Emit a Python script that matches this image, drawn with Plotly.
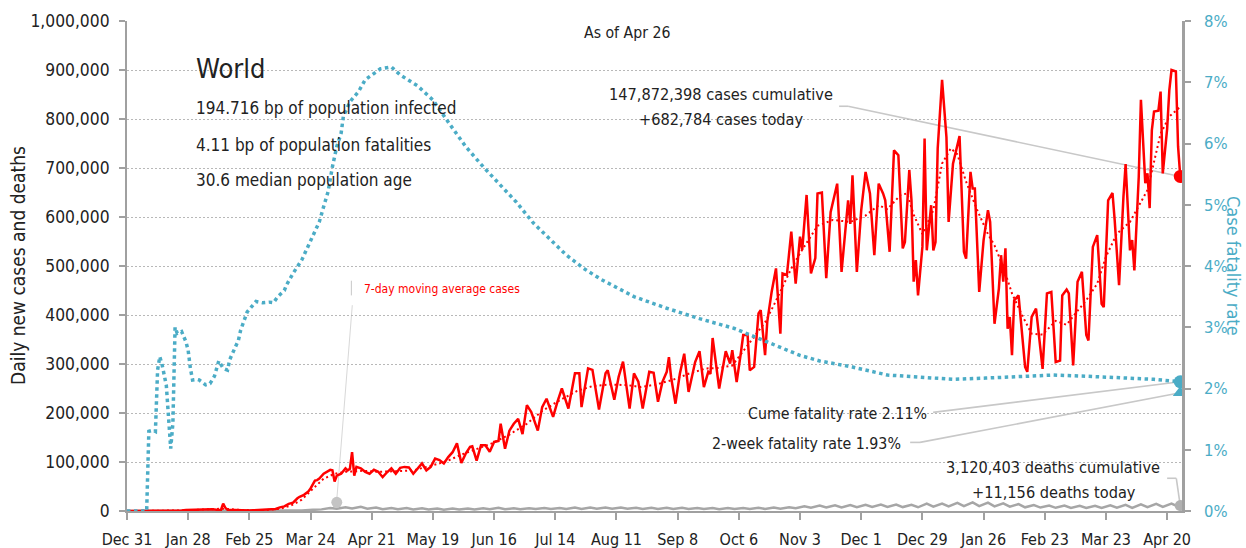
import pandas as pd
import plotly.graph_objects as go

# ---------------- data (days since 2019-12-31) ----------------
START = pd.Timestamp("2019-12-31")

# daily new cases (thousands)
case_day = [0, 18, 21, 23, 25, 27, 29, 31, 33, 35, 37, 39, 41, 43, 44, 45, 46, 48, 50, 52, 54, 56, 58, 60, 62, 64, 66, 68,
            70, 72, 74, 76, 78, 79, 81, 83, 84, 86, 87, 88, 90, 92, 93, 94, 95, 96, 98, 100, 101, 102, 103, 104, 105, 107,
            109, 111, 113, 115, 117, 119, 121, 123, 125, 127, 129, 131, 133, 135, 137, 139, 141, 143, 145, 147, 149, 151,
            153, 155, 157, 158, 160, 162, 164, 166, 168, 170, 171, 173, 175, 177, 179, 181, 183, 185, 188, 190, 192, 195,
            197, 199, 202, 205, 207, 208, 211, 213, 216, 219, 220, 223, 225, 227, 230, 232, 234, 236, 239, 241, 243, 245,
            247, 248, 249, 251, 253, 255, 257, 260, 262, 264, 266, 267, 268, 271, 274, 276, 277, 279, 281, 282, 284, 285,
            287, 289, 290, 292, 293, 295, 297, 299, 300, 302, 304, 306, 308, 309, 311, 313, 315, 316, 318, 320, 322, 325,
            327, 330, 331, 332, 334, 336, 338, 340, 342, 344, 346, 347, 349, 351, 353, 355, 356, 358, 359, 360, 361, 362,
            364, 365, 366, 368, 369, 370, 371, 373, 375, 376, 378, 380, 381, 383, 384, 386, 387, 388, 390, 392, 394, 395,
            397, 399, 400, 401, 402, 403, 404, 405, 406, 408, 411, 412, 414, 416, 419, 421, 423, 425, 427, 428, 430, 431,
            433, 435, 437, 439, 440, 442, 444, 446, 447, 449, 451, 452, 454, 456, 457, 459, 460, 461, 463, 464, 466, 467,
            468, 469, 470, 472, 473, 474, 476, 477, 478, 480, 481, 482]
case_k = [0, 0.1, 0.4, 0.7, 1.0, 1.9, 2.1, 2.7, 3.3, 3.9, 3.7, 3.6, 2.7, 2.0, 15.2, 6.5, 2.6, 2.1, 1.9, 0.8, 1.0, 0.9, 1.5, 1.8, 2.5, 2.3, 3.6, 4.2,
          7.5, 9.5, 14.5, 17, 26, 29, 33, 40, 46, 62, 63, 66, 76, 82, 84, 83, 60, 72, 76, 87, 83, 86, 120, 72, 90, 87,
          80, 76, 84, 80, 69, 79, 87, 76, 88, 90, 89, 76, 87, 97, 83, 90, 107, 104, 97, 110, 120, 138,
          98, 117, 131, 132, 103, 134, 134, 121, 141, 143, 178, 127, 164, 178, 188, 157, 216, 202, 164, 212, 229, 192,
          223, 250, 209, 281, 281, 212, 291, 288, 207, 281, 287, 227, 274, 305, 209, 281, 264, 209, 284, 282, 223, 263,
          284, 314, 273, 219, 280, 321, 243, 304, 326, 253, 284, 280, 353, 250, 326, 301, 328, 263, 325, 359, 359, 287,
          294, 403, 410, 318, 386, 447, 495, 362, 485, 482, 570, 464, 560, 533, 645, 485, 516, 648, 650, 475, 610, 668,
          488, 634, 586, 685, 488, 614, 692, 648, 522, 668, 648, 634, 529, 736, 726, 536, 549, 696, 634, 468, 512, 440,
          539, 760, 532, 624, 532, 549, 740, 880, 763, 590, 709, 750, 765, 529, 515, 692, 658, 658, 447, 553, 614, 590,
          382, 454, 522, 468, 536, 372, 396, 318, 430, 440, 294, 284, 396, 413, 290, 444, 447, 304, 307, 440, 452, 444,
          297, 468, 488, 359, 348, 539, 563, 423, 416, 634, 649, 593, 461, 641, 708, 532, 553, 491, 681, 839, 669, 689,
          618, 777, 815, 817, 856, 689, 780, 859, 900, 897, 744, 682.784]

# 7-day moving average of cases (thousands)
ma_day = [0, 20, 27, 33, 40, 44, 51, 58, 65, 70, 75, 80, 85, 90, 95, 100, 108, 115, 122, 131, 138, 146, 153, 160, 167,
          175, 183, 190, 198, 206, 213, 221, 229, 235, 242, 250, 257, 265, 271, 277, 283, 288, 292, 296, 300, 304, 308,
          312, 316, 323, 331, 338, 344, 348, 354, 357, 360, 364, 369, 373, 377, 380, 384, 389, 394, 397, 401, 405, 410,
          414, 419, 425, 430, 434, 439, 444, 448, 453, 459, 467, 473, 477, 482]
ma_k = [0, 0.2, 1.2, 2.7, 3.3, 4.8, 2.6, 1.2, 2.4, 4.5, 11, 23, 45, 66, 76, 80, 82, 80, 81, 83, 91, 101, 115, 126, 138,
        156, 178, 204, 226, 245, 255, 258, 257, 253, 258, 268, 280, 291, 292, 297, 332, 360, 385, 420, 457, 495, 526,
        555, 582, 594, 590, 603, 624, 616, 645, 648, 605, 565, 614, 709, 740, 728, 672, 615, 565, 542, 498, 444, 396,
        362, 360, 388, 380, 403, 430, 464, 519, 566, 590, 655, 770, 805, 825]

# daily deaths (thousands)
death_day = [0, 20, 25, 30, 35, 40, 44, 48, 55, 62, 66, 70, 75, 80, 85,
             89, 93, 96, 100, 103, 107, 110, 114, 117, 121, 124, 128, 131, 135, 138, 142, 145, 149, 152, 156, 159, 163,
             166, 170, 173, 177, 180, 184, 187, 191, 194, 198, 201, 205, 208, 212, 215, 219, 222, 226, 229, 233, 236, 240,
             243, 247, 250, 254, 257, 261, 264, 268, 271, 275, 278, 282, 285, 289, 292, 296, 299, 303, 306, 310, 313, 317,
             320, 324, 327, 331, 334, 338, 341, 345, 348, 352, 355, 359, 362, 366, 369, 373, 376, 380, 383, 387, 390, 394,
             397, 401, 404, 408, 411, 415, 418, 422, 425, 429, 432, 436, 439, 443, 446, 450, 453, 457, 460, 464, 467, 471,
             474, 478, 481, 482]
death_k = [0, 0.02, 0.03, 0.05, 0.07, 0.1, 0.25, 0.12, 0.1, 0.08, 0.1, 0.3, 0.6, 1.2, 2.3,
           3.3, 6.0, 4.8, 7.6, 5.2, 8.5, 4.8, 7.2, 3.8, 6.3, 3.6, 5.9, 3.3, 5.4, 3.0, 5.2, 2.8, 5.0, 2.9, 5.3, 3.1, 5.5,
           3.4, 6.8, 3.5, 5.4, 3.7, 5.8, 3.9, 6.0, 4.0, 6.3, 4.2, 7.0, 4.3, 7.0, 4.5, 7.0, 4.6, 7.1, 4.4, 6.8, 4.3, 6.5,
           4.1, 6.4, 3.9, 6.4, 4.0, 6.2, 3.9, 6.1, 3.8, 6.2, 3.9, 6.2, 4.0, 6.6, 4.3, 7.0, 4.8, 7.8, 5.6, 9.6, 6.7, 11.0,
           7.0, 11.8, 7.3, 12.2, 7.8, 12.6, 8.2, 13.0, 8.3, 13.2, 8.0, 12.5, 7.6, 15.0, 9.0, 15.0, 9.5, 16.5, 10.0, 17.5,
           9.8, 17.2, 9.5, 15.5, 8.8, 14.0, 7.5, 12.0, 7.0, 11.0, 6.5, 11.0, 6.3, 10.5, 6.0, 10.8, 6.4, 11.8, 6.8, 12.5,
           6.5, 13.8, 8.0, 14.5, 8.5, 15.0, 9.0, 11.156]

# cumulative case fatality rate (%)
cfr_day = [0, 9, 10, 12, 13, 14, 15, 16, 18, 19, 20, 21, 22, 23, 25, 27, 28, 29, 30, 32, 33, 36, 38, 40, 41, 42, 44,
           46, 47, 49, 51, 52, 55, 59, 62, 65, 67, 69, 72, 73, 76, 80, 84, 88, 90, 92, 94, 96, 98, 99, 102, 106, 109,
           116, 121, 125, 133, 140, 148, 155, 163, 171, 178, 186, 194, 201, 209, 217, 232, 247, 262, 278, 293, 308,
           317, 332, 348, 363, 378, 393, 409, 424, 439, 455, 470, 482]
cfr_pct = [0, 0, 1.30, 1.32, 1.30, 2.30, 2.52, 2.40, 2.05, 1.48, 1.02, 1.43, 3.00, 2.90, 2.93, 2.76, 2.62, 2.33, 2.14,
           2.15, 2.14, 2.06, 2.08, 2.20, 2.33, 2.45, 2.33, 2.30, 2.47, 2.63, 2.79, 2.95, 3.25, 3.42, 3.40, 3.41, 3.40,
           3.50, 3.60, 3.69, 3.88, 4.10, 4.42, 4.72, 4.97, 5.21, 5.62, 5.95, 6.17, 6.44, 6.68, 6.85, 7.04,
           7.22, 7.25, 7.12, 6.94, 6.71, 6.30, 5.95, 5.62, 5.32, 5.05, 4.70, 4.42, 4.18, 3.96, 3.78, 3.50, 3.31, 3.14,
           2.98, 2.76, 2.54, 2.45, 2.35, 2.22, 2.18, 2.15, 2.17, 2.20, 2.22, 2.20, 2.18, 2.15, 2.11]

fatality_2wk_pct = 1.93
x_tick_days = 28

# ---------------- styling ----------------
RED = "#ff0000"
TEAL = "#4bacc6"
GRAY = "#a6a6a6"
LEAD = "#c8c8c8"
AXIS = "#a0a0a0"
TXT = "#222222"
FONT = "Liberation Sans Narrow, DejaVu Sans Condensed, Liberation Sans, sans-serif"

W, H = 1246, 548
L, R, T, B = 127, 64, 21, 37
PW, PH = W - L - R, H - T - B


def px(xp):
    return (xp - L) / PW


def py(yp):
    return (H - B - yp) / PH


def dates(days):
    return [START + pd.Timedelta(days=d) for d in days]


last = case_day[-1]
last_date = START + pd.Timedelta(days=last)

fig = go.Figure()

fig.add_trace(go.Scatter(x=dates(death_day), y=[v * 1000 for v in death_k], mode="lines",
                         line=dict(color=GRAY, width=2.5), hoverinfo="skip"))
fig.add_trace(go.Scatter(x=dates(ma_day), y=[v * 1000 for v in ma_k], mode="lines",
                         line=dict(color=RED, width=2, dash="2px,3px"), hoverinfo="skip"))
fig.add_trace(go.Scatter(x=dates(case_day), y=[v * 1000 for v in case_k], mode="lines",
                         line=dict(color=RED, width=2.5), hoverinfo="skip"))
fig.add_trace(go.Scatter(x=[last_date], y=[case_k[-1] * 1000], mode="markers",
                         marker=dict(color=RED, size=13), hoverinfo="skip"))
fig.add_trace(go.Scatter(x=[last_date], y=[death_k[-1] * 1000], mode="markers",
                         marker=dict(color="#b0b0b0", size=11), hoverinfo="skip"))
# note marker for the moving-average label
note_day, note_k = 96, 17.8
fig.add_trace(go.Scatter(x=dates([note_day]), y=[note_k * 1000], mode="markers",
                         marker=dict(color="#c4c4c4", size=11), hoverinfo="skip"))

fig.add_trace(go.Scatter(x=dates(cfr_day), y=[v / 100 for v in cfr_pct], mode="lines", yaxis="y2",
                         line=dict(color=TEAL, width=3.5, dash="dot"), hoverinfo="skip"))
fig.add_trace(go.Scatter(x=[last_date], y=[cfr_pct[-1] / 100], mode="markers", yaxis="y2",
                         marker=dict(color=TEAL, size=13), hoverinfo="skip"))
fig.add_trace(go.Scatter(x=[last_date], y=[fatality_2wk_pct / 100], mode="markers", yaxis="y2",
                         marker=dict(color=TEAL, size=13, symbol="triangle-up"), hoverinfo="skip"))

shapes = []


def seg(d0, v0, d1, v1, yref="y", color=LEAD, width=1.6):
    shapes.append(dict(type="line", xref="x", yref=yref,
                       x0=START + pd.Timedelta(days=d0), y0=v0, x1=START + pd.Timedelta(days=d1), y1=v1,
                       line=dict(color=color, width=width), layer="below"))


# cases leader
seg(325.9, 826000, 330, 826000)
seg(330, 826000, last, case_k[-1] * 1000)
# cfr leaders
seg(368.9, 0.0161, last, cfr_pct[-1] / 100, yref="y2")
seg(358.4, 0.0112, 362.9, 0.0112, yref="y2")
seg(362.9, 0.0112, last, fatality_2wk_pct / 100, yref="y2")
# deaths leader
seg(476, 66800, 480.2, 66800)
seg(480.2, 66800, last, death_k[-1] * 1000)
# moving average label leader
seg(102.7, 470000, 102.7, 440000, color="#cfcfcf", width=1.2)
seg(103.1, 420000, note_day, note_k * 1000 + 5000, color="#d8d8d8", width=1)

ann = []


def text(t, x, y, size, xanchor="left", color=TXT, **kw):
    ann.append(dict(text=t, x=px(x), y=py(y), xref="paper", yref="paper", xanchor=xanchor, yanchor="middle",
                    showarrow=False, font=dict(family=FONT, size=size, color=color), **kw))


text("World", 194, 68, 27)
text("194.716 bp of population infected", 194, 108, 17)
text("4.11 bp of population fatalities", 194, 145, 17)
text("30.6 median population age", 194, 180, 17)
text("As of Apr 26", 627, 32, 15.7, xanchor="center")
text("147,872,398 cases cumulative", 721, 94, 16.2, xanchor="center")
text("+682,784 cases today", 721, 120, 16.2, xanchor="center")
text("Cume fatality rate 2.11%", 929, 413, 15.8, xanchor="right")
text("2-week fatality rate 1.93%", 903, 443, 15.8, xanchor="right")
text("3,120,403 deaths cumulative", 1053, 467, 16.2, xanchor="center")
text("+11,156 deaths today", 1054, 492, 16.2, xanchor="center")
text("7-day moving average cases", 362, 289, 12, color=RED)
text("Daily new cases and deaths", 18, 266, 19, xanchor="center", textangle=-90)
text("Case fatality rate", 1234, 266, 18, xanchor="center", color=TEAL, textangle=90)

fig.update_layout(
    width=W, height=H,
    margin=dict(l=L, r=R, t=T, b=B, autoexpand=False),
    paper_bgcolor="white", plot_bgcolor="white",
    showlegend=False, hovermode=False,
    shapes=shapes, annotations=ann,
    xaxis=dict(type="date", range=[START, START + pd.Timedelta(days=482.8)],
               tick0=START, dtick=x_tick_days * 86400000, tickformat="%b %-d", tickangle=0,
               showgrid=False, zeroline=False, showline=True, linecolor=AXIS, linewidth=2,
               ticks="outside", ticklen=7, tickwidth=1.5, tickcolor=AXIS, ticklabelstandoff=6,
               tickfont=dict(family=FONT, size=16, color=TXT)),
    yaxis=dict(range=[0, 1000000], dtick=100000, tickformat=",", showgrid=True, gridcolor="#b8b8b8",
               griddash="2px,2px", gridwidth=1, zeroline=False, showline=True, linecolor=AXIS, linewidth=2,
               ticks="outside", ticklen=6, tickwidth=1.5, tickcolor=AXIS, ticklabelstandoff=6,
               tickfont=dict(family=FONT, size=17.3, color=TXT)),
    yaxis2=dict(range=[0, 0.08], dtick=0.01, tickformat=".0%", overlaying="y", side="right",
                showgrid=False, zeroline=False, showline=True, linecolor=AXIS, linewidth=2.5,
                ticks="outside", ticklen=6, tickwidth=1.5, tickcolor=AXIS, ticklabelstandoff=10,
                tickfont=dict(family=FONT, size=16.5, color=TEAL)),
)

fig.write_html("out.html", config={"displayModeBar": False},
               post_script="document.body.style.margin='0';")
